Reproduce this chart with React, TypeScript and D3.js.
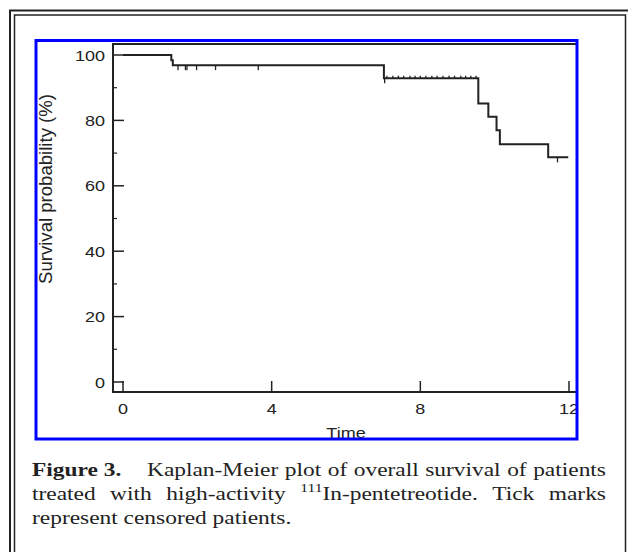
import React from "react";
import * as d3 from "d3";

const W = 628;
const H = 552;

const yTicks = [0, 20, 40, 60, 80, 100];
const yMinorTicks = [10, 30, 50, 70, 90];
const xTicks = [0, 4, 8, 12];

// Kaplan-Meier step points (time, survival %)
const eventTimes = [0, 1.3, 1.34, 7.02, 9.56, 9.83, 10.05, 10.14, 11.44, 11.98];
const survival = [100, 98.4, 96.9, 92.9, 85.2, 81.1, 77.0, 72.7, 68.7, 68.7];

// censored patients: marks hanging below / standing above the curve
const censorDown = [1.48, 1.68, 1.72, 1.98, 2.49, 3.64, 7.04, 11.69];
const censorUp = [7.1, 7.26, 7.41, 7.55, 7.72, 7.86, 8.0, 8.15, 8.31, 8.45, 8.61, 8.77, 8.92, 9.09, 9.22, 9.36, 9.5];

const captionLine1 = "Kaplan-Meier plot of overall survival of patients";
const captionLine2a = "treated with high-activity";
const captionLine2b = "In-pentetreotide. Tick marks";
const captionLine3 = "represent censored patients.";

const SANS = "'Liberation Sans', Arial, sans-serif";
const SERIF = "'Liberation Serif', 'Times New Roman', serif";
const INK = "#222";
const SX = 1.2; // the scan is stretched sideways

const survivalAt = (t: number) => {
  const i = d3.bisectRight(eventTimes, t) - 1;
  return survival[Math.max(0, i)];
};

const justified: React.CSSProperties = {
  display: "flex",
  justifyContent: "space-between",
  whiteSpace: "nowrap",
};

export default function App() {
  const x = d3.scaleLinear().domain([0, 12]).range([123, 569]);
  const y = d3.scaleLinear().domain([0, 100]).range([382, 55]);
  const left = 113, right = 578, top = 44, bottom = 392;

  const line = d3
    .line<number>()
    .x((d) => x(eventTimes[d]))
    .y((d) => y(survival[d]))
    .curve(d3.curveStepAfter);
  const path = line(d3.range(eventTimes.length)) || "";

  const words2b = captionLine2b.split(" ");

  return (
    <svg
      width={W}
      height={H}
      style={{ position: "absolute", left: 0, top: 0, background: "#fff" }}
    >
      {/* page frame (double rule) */}
      <rect x={10} y={10.5} width={640} height={620} fill="none" stroke={INK} strokeWidth={2} />
      <rect x={14.5} y={15} width={611} height={620} fill="none" stroke={INK} strokeWidth={1.5} />

      {/* plot frame */}
      <line x1={left} x2={right} y1={top} y2={top} stroke={INK} strokeWidth={2} />
      <line x1={left} x2={left} y1={top - 1} y2={bottom + 1} stroke={INK} strokeWidth={2} />
      <line x1={left} x2={right} y1={bottom} y2={bottom} stroke={INK} strokeWidth={2} />

      {/* y ticks */}
      {yTicks.map((v) => (
        <g key={"y" + v}>
          <line x1={left} x2={left + 11} y1={y(v)} y2={y(v)} stroke={INK} strokeWidth={1.5} />
          <text
            transform={`translate(105,${y(v) + 5.5}) scale(${SX},1)`}
            textAnchor="end"
            fontFamily={SANS}
            fontSize={15}
            fill={INK}
          >
            {v}
          </text>
        </g>
      ))}
      {yMinorTicks.map((v) => (
        <line key={"ym" + v} x1={left} x2={left + 4} y1={y(v)} y2={y(v)} stroke={INK} strokeWidth={1.2} />
      ))}

      {/* x ticks */}
      {xTicks.map((v) => (
        <g key={"x" + v}>
          <line x1={x(v)} x2={x(v)} y1={bottom} y2={bottom - 11} stroke={INK} strokeWidth={1.5} />
          <text
            transform={`translate(${x(v)},414) scale(${SX},1)`}
            textAnchor="middle"
            fontFamily={SANS}
            fontSize={15}
            fill={INK}
          >
            {v}
          </text>
        </g>
      ))}

      {/* axis titles */}
      <text
        transform={`translate(346,438) scale(${SX},1)`}
        textAnchor="middle"
        fontFamily={SANS}
        fontSize={15}
        fill={INK}
      >
        Time
      </text>
      <text
        transform={`translate(52,189) scale(${SX},1) rotate(-90)`}
        textAnchor="middle"
        fontFamily={SANS}
        fontSize={15}
        fill={INK}
        textLength={190}
        lengthAdjust="spacingAndGlyphs"
      >
        Survival probability (%)
      </text>

      {/* survival curve */}
      <path d={path} fill="none" stroke={INK} strokeWidth={2} />
      {censorDown.map((t, i) => (
        <line
          key={"cd" + i}
          x1={x(t)}
          x2={x(t)}
          y1={y(survivalAt(t))}
          y2={y(survivalAt(t)) + 5}
          stroke={INK}
          strokeWidth={1.3}
        />
      ))}
      {censorUp.map((t, i) => (
        <line
          key={"cu" + i}
          x1={x(t)}
          x2={x(t)}
          y1={y(survivalAt(t))}
          y2={y(survivalAt(t)) - 2.5}
          stroke={INK}
          strokeWidth={1.3}
        />
      ))}

      {/* blue outline */}
      <rect x={36} y={40.5} width={541} height={398.5} fill="none" stroke="#0000ff" strokeWidth={3} />

      {/* caption */}
      <foreignObject x={32} y={458} width={580} height={90}>
        <div
          style={{
            width: 574 / SX,
            transform: `scaleX(${SX})`,
            transformOrigin: "0 0",
            fontFamily: SERIF,
            fontSize: 19.5,
            lineHeight: "24px",
            color: "#222",
          }}
        >
          <div style={justified}>
            <b style={{ marginRight: 16 }}>Figure 3.</b>
            {captionLine1.split(" ").map((w, i) => (
              <span key={i}>{w}</span>
            ))}
          </div>
          <div style={justified}>
            {captionLine2a.split(" ").map((w, i) => (
              <span key={i}>{w}</span>
            ))}
            <span>
              <span style={{ fontSize: 13, position: "relative", top: -8, lineHeight: 0 }}>111</span>
              {words2b[0]}
            </span>
            {words2b.slice(1).map((w, i) => (
              <span key={i}>{w}</span>
            ))}
          </div>
          <div>{captionLine3}</div>
        </div>
      </foreignObject>
    </svg>
  );
}
